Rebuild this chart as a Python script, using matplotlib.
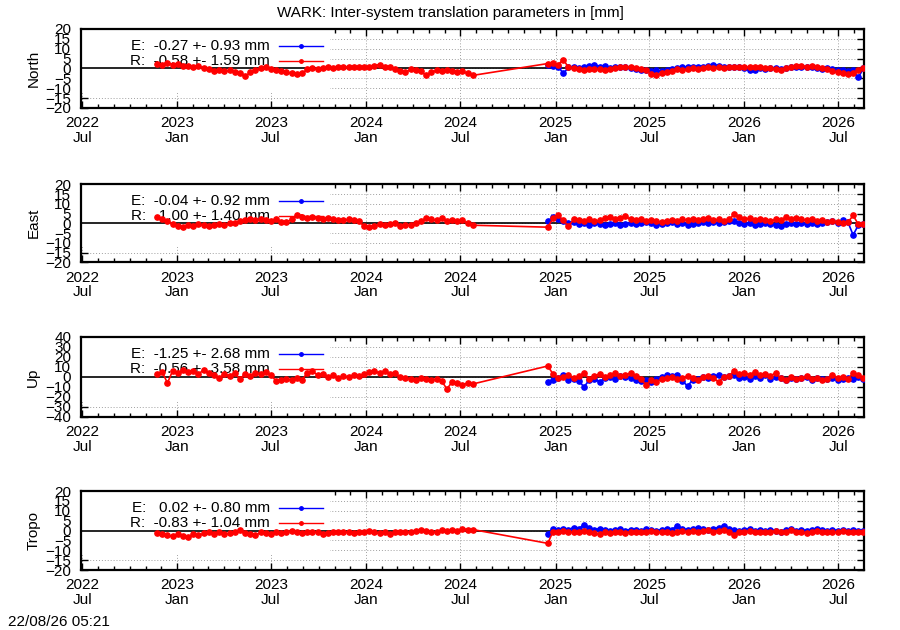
import numpy as np
import pandas as pd
import matplotlib
matplotlib.use('Agg')
import matplotlib.pyplot as plt
import matplotlib.dates as mdates
from matplotlib.patches import Rectangle

plt.rcParams['font.family'] = ['Liberation Sans', 'DejaVu Sans']

# sampling dates (every 10 days) of the two data periods
dates_1 = pd.date_range('2022-11-23', periods=62, freq='10D')
dates_2 = pd.date_range('2024-12-17', periods=62, freq='10D')

# ---- North [mm]
north_r1 = [2.5, 2, 3, 2, 2.5, 1.5, 1.5, 1, 1.5, 0, -0.5, -1.5, -1, -1.5, -1, -2, -2.5, -4, -2, -1,
            0, 1, -0.5, -1, -1.5, -2, -2.5, -3, -2.5, -0.5, 0, -0.5, 0, 0.5, 0, 1, 0.5, 1, 1, 0.5,
            1, 0.5, 1.5, 2, 1, 1, -0.5, -1.5, -2, -0.5, -1, -1.5, -3.5, -2, -1, -1.5, -1, -1.5, -2, -1.5,
            -2.5, -3.5]
north_r2 = [2.5, 3, 2, 4.5, 0.5, 0, -0.5, -1, -0.5, -0.5, -0.5, -1, -0.5, 0, 1, 1, 0.5, 0, -0.5, -1,
            -3, -3.5, -2.5, -2, -1.5, -0.5, -1, -0.5, 0, -0.5, 0, 0.5, 0, 0.5, 0, 0.5, 1, 0.5, 1, 0.5,
            1, 0.5, 0, 0, -0.5, -1, 0, 0.5, 1.5, 1.5, 1, 1.5, 0.5, 0, -0.5, -1.5, -2, -2.5, -3, -2.5,
            -1, 0]
north_e2 = [2, 1.5, 1, -2.5, 0.5, 0.5, 0, 0.5, 1.5, 2, 1, 1.5, 0, 0.5, 1, 0.5, 0, -0.5, -1, -1,
            -1.5, -1, -1.5, -1, -0.5, 0, 0.5, 1, 0.5, 1, 1, 1.5, 2, 1.5, 1, 0.5, 0.5, 0.5, 0, -1,
            -1, 0, -0.5, 0, 0, -0.5, 0, 0.5, 1, 1, 0.5, 1, 0, -0.5, 0, -0.5, -1, -1, -1.5, -1,
            -4.5, 0]

# ---- East [mm]
east_r1 = [3, 2, 1, -0.5, -1.5, -2, -1, -1.5, -0.5, -1, -1.5, -1, -0.5, -1, 0, 0, 1, 1.5, 2, 1.5,
           2, 1.5, 1, 2, 0.5, 0.5, 2, 4, 3, 2.5, 3, 2.5, 2, 2.5, 2, 1.5, 1.5, 2, 1.5, 1,
           -1.5, -2, -1.5, -0.5, -1, -0.5, 0, -1.5, -1, -1, 0, 1, 2.5, 2, 1.5, 2.5, 1, 1.5, 1, 1.5,
           0, -1]
east_r2 = [-2, 2.5, 4, 1.5, -1.5, 2, 1.5, 1, 2, 1, 1.5, 2.5, 3, 2, 2.5, 3.5, 2, 1.5, 2, 1,
           1.5, 1, 0.5, 1, 1.5, 1, 2, 1.5, 2, 1.5, 2, 2.5, 1.5, 2, 1, 2, 4.5, 3, 2, 2.5,
           1.5, 2, 1.5, 1, 2, 1.5, 3, 2, 2.5, 2, 1.5, 2, 1, 1.5, 0.5, 1, 0.5, 0, 0.5, 4,
           -0.5, -0.5]
east_e2 = [1, 3, 2, 1, 0, 0.5, -0.5, 0, -1, 0, -0.5, -1, -0.5, 0, -1, -0.5, 0, -0.5, 0, 0.5,
           0, -1, -0.5, 0, 0.5, -0.5, 0, -1, -0.5, 0, 0.5, 0, 0.5, 0, 0.5, 1, 1, 0, -0.5, 0,
           -1, -0.5, 0, -0.5, -1, -1.5, -0.5, 0, -0.5, 0, -0.5, 0, -0.5, 0, 0.5, 1, 0, 1.5, 0.5, -6,
           -1, -0.5]

# ---- Up [mm]
up_r1 = [3, 5, -6, 6, 4, 7, 5, 6, 3, 7, 4, 2, -1, 3, 1, 4, -2, 3, 1, 4,
         3, 5, 2, -4, -3, -2, -3, -1, -3, 4, 6, 2, 3, 0, 2, -1, 1, 0, 2, 1,
         3, 5, 6, 4, 6, 3, 4, 0, -1, -2, -3, -1, -2, -3, -2, -4, -12, -5, -6, -8,
         -6, -7]
up_r2 = [11, 3, -1, 0, 2, -1, 1, 4, -2, 1, 3, 0, 2, 4, 1, 2, 4, 1, -2, -8,
         -3, -5, -2, -1, 0, -2, -1, 1, -1, -3, 0, 1, -1, -5, 0, 1, 6, 3, 4, 2,
         5, 2, 3, 1, 4, -1, -3, 0, -2, -1, 1, -2, -1, -3, -2, 2, -1, 0, -2, 4,
         2, -1]
up_e2 = [-5, -3, -1, 2, -3, -2, -4, -10, -3, -2, -5, -1, 0, -2, 1, 0, -1, -3, -4, -3,
         -5, -2, 0, 2, 1, 2, -4, -9, -3, -2, 0, -1, 1, 2, 0, 1, 2, -1, 0, -2,
         1, -1, 2, -2, 0, -1, -3, -1, -2, -1, 0, -3, -1, -2, -2, -1, -3, -2, -1, -2,
         0, -2]

# ---- Tropo [mm]
tropo_r1 = [-1.5, -2, -2.5, -3, -2, -3, -3.5, -2, -2.5, -1.5, -1, -2, -0.5, -2, -1.5, -1, 0.5, -1.5, -2, -2.5,
            -1, -1.5, -2, -1, -1.5, -1, 0, -1, -1.5, -1, -0.5, -1, -2, -1.5, -1, -0.5, -1, -0.5, -1.5, -1,
            -0.5, 0, -1, -1.5, -1, -2, -1, -0.5, -1, -0.5, 0, 0.5, 0, -0.5, -1, 0.5, 0, 0.5, 0, 1,
            0.5, 0.5]
tropo_r2 = [-6.5, -0.5, -1, 0, -0.5, -1, -0.5, 0, -1, -1.5, -2, -1, -1.5, -1, -0.5, -1.5, -0.5, -1, -0.5, -1,
            0, -0.5, -1, -0.5, -1.5, -0.5, 0, -1, 0, -0.5, 0, 0.5, -0.5, 0, 0.5, -1, -2.5, -0.5, -1, 0,
            -0.5, -1, -0.5, -1, 0, -0.5, -1, 0.5, -0.5, -1, -1.5, -0.5, 0, -0.5, -1, -0.5, -1, 0, -0.5, -1,
            -0.5, -0.5]
tropo_e2 = [-2, 1, 0.5, 1, 0.5, 1.5, 1, 3, 1.5, 0.5, 1, 0.5, 0, 0.5, 1, 0, 0.5, 0.5, 0, 1,
            0.5, 0, 0.5, 1, 0.5, 2.5, 1, 0.5, 1, 1.5, 1, 0.5, 1, 1.5, 2.5, 1, 0.5, 0, 0.5, 1,
            0, 0.5, 0, 0.5, 0, -0.5, 0.5, 1, 0, 0.5, 0, 0.5, 1, 0.5, 0, 0.5, 0, 0.5, 0, 0.5,
            0, 0]

panels = ['North', 'East', 'Up', 'Tropo']
limits = [20, 20, 40, 20]
steps = [5, 5, 10, 5]
stats_e = [(-0.27, 0.93), (-0.04, 0.92), (-1.25, 2.68), (0.02, 0.80)]
stats_r = [(-0.58, 1.59), (1.00, 1.40), (-0.56, 3.58), (-0.83, 1.04)]
red_1 = [north_r1, east_r1, up_r1, tropo_r1]
red_2 = [north_r2, east_r2, up_r2, tropo_r2]
blue_2 = [north_e2, east_e2, up_e2, tropo_e2]

fig = plt.figure(figsize=(9, 6.3), dpi=100)
bottoms = [0.8286, 0.5837, 0.3381, 0.0952]
heights = [0.1254, 0.1238, 0.1270, 0.1254]

red_dates = dates_1.append(dates_2)
fs = 11

for k, name in enumerate(panels):
    ax = fig.add_axes([0.09, bottoms[k], 0.87, heights[k]])
    ax.set_axisbelow(True)

    # white key area covering the grid
    ax.add_patch(Rectangle((0, 0.19), 0.318, 0.81, transform=ax.transAxes,
                           facecolor='white', edgecolor='none', zorder=1))
    ax.axhline(0, color='black', lw=1.2, zorder=2)

    ax.plot(dates_2, blue_2[k], color='blue', lw=1.2, marker='o', ms=3.8, zorder=3)
    ax.plot(red_dates, red_1[k] + red_2[k], color='red', lw=1.2, marker='o', ms=3.8, zorder=4)

    # key
    e_txt = 'E: %6.2f +- %4.2f mm' % stats_e[k]
    r_txt = 'R: %6.2f +- %4.2f mm' % stats_r[k]
    for txt, col, yy in [(e_txt, 'blue', 0.785), (r_txt, 'red', 0.595)]:
        ax.text(0.2414, yy, txt, transform=ax.transAxes, ha='right', va='center',
                fontsize=fs, zorder=2.5)
        ax.plot([0.2529, 0.309], [yy, yy], color=col, lw=1, transform=ax.transAxes, zorder=2.5)
        ax.plot([0.281], [yy], color=col, marker='o', ms=2.5, transform=ax.transAxes, zorder=2.5)

    lim = limits[k]
    ax.set_ylim(-lim, lim)
    ax.set_yticks(np.arange(-lim, lim + 1, steps[k]))
    ax.set_xlim(pd.Timestamp('2022-06-29'), pd.Timestamp('2026-08-20'))
    ax.xaxis.set_major_locator(mdates.MonthLocator(bymonth=[1, 7]))
    ax.xaxis.set_minor_locator(mdates.MonthLocator())
    ax.xaxis.set_major_formatter(mdates.DateFormatter('%Y\n%b'))

    ax.grid(True, which='major', color='#a0a0a0', linestyle=(0, (1, 2)), lw=0.7)
    ax.tick_params(axis='both', which='major', direction='in', length=5, width=1,
                   top=True, right=True, labelsize=fs)
    ax.tick_params(axis='x', which='minor', direction='in', length=3, width=1, top=True)
    ax.tick_params(axis='y', pad=7)
    ax.tick_params(axis='x', pad=6)
    for lab in ax.get_xticklabels():
        lab.set_linespacing(1.05)
    for sp in ax.spines.values():
        sp.set_linewidth(1.6)

    ax.set_ylabel(name, fontsize=fs)
    ax.yaxis.set_label_coords(-0.052, 0.5)

fig.text(0.5, 0.979, 'WARK: Inter-system translation parameters in [mm]',
         ha='center', va='center', fontsize=fs)
fig.text(0.009, 0.013, '22/08/26 05:21', ha='left', va='center', fontsize=fs)

fig.savefig('out.png', dpi=100)
